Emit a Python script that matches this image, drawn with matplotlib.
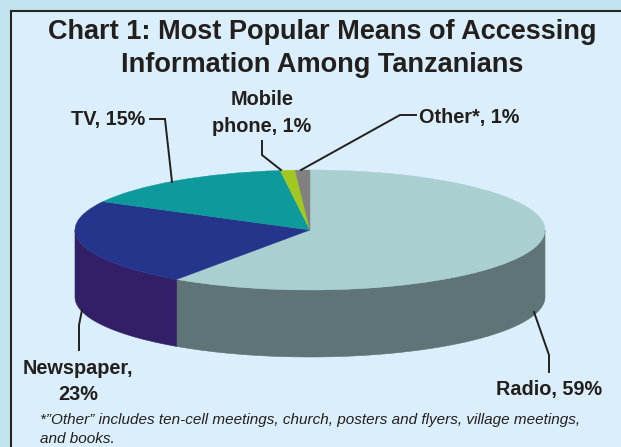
import numpy as np
import matplotlib
matplotlib.use("Agg")
import matplotlib.pyplot as plt
from matplotlib.patches import Wedge, Polygon, Rectangle
from matplotlib.transforms import Affine2D

plt.rcParams['font.family'] = ['Liberation Sans', 'DejaVu Sans']

categories = ["Radio", "Newspaper", "TV", "Mobile phone", "Other*"]
values = [59, 23, 15, 1, 1]
top_colors = ["#a9cfd0", "#25358c", "#0e9a9c", "#a2c81e", "#808080"]
side_colors = ["#5f7477", "#331f68", "#0b6f70", "#6f8a14", "#555555"]
title = "Chart 1: Most Popular Means of Accessing\nInformation Among Tanzanians"
footnote = ("*\u201dOther\u201d includes ten-cell meetings, church, posters and flyers, village meetings,\n"
            "and books.")

W, H = 621, 447
fig = plt.figure(figsize=(W / 100, H / 100), dpi=100, facecolor="#c2e4f0")
ax = fig.add_axes([0, 0, 1, 1])
ax.set_xlim(0, W)
ax.set_ylim(H, 0)
ax.axis("off")

# panel with its rule on the top and left
ax.add_patch(Rectangle((10.5, 11), W, H, fc="#daeefc", ec="none", zorder=0))
ax.plot([10.5, 10.5, W], [H, 11, 11], color="#2a2522", lw=1.5, zorder=1, solid_joinstyle="miter")

# pie geometry
cx, cy, rx, ry, depth = 310, 230, 235, 60, 67
ell = Affine2D().scale(rx, -ry).translate(cx, cy) + ax.transData

fractions = np.array(values) / sum(values)
ends = 90 - np.cumsum(fractions) * 360
starts = np.r_[90, ends[:-1]]

# extruded rim: only the part of each slice facing the viewer (180..360 deg)
for s, e, col in zip(starts, ends, side_colors):
    lo, hi = np.mod(e, 360), np.mod(s, 360)
    if hi <= lo:
        hi += 360
    segs = [(max(lo, a), min(hi, b)) for a, b in [(180, 360), (540, 720)] if min(hi, b) > max(lo, a)]
    if lo < 180 and hi > 360:
        segs = [(180, 360)]
    for a, b in segs:
        t = np.radians(np.linspace(a, b, 120))
        x = cx + rx * np.cos(t)
        y = cy - ry * np.sin(t)
        ax.add_patch(Polygon(np.r_[np.c_[x, y], np.c_[x, y + depth][::-1]],
                             fc=col, ec=col, lw=0.4, zorder=2))

# top face
for s, e, col in zip(starts, ends, top_colors):
    ax.add_patch(Wedge((0, 0), 1, e, s, fc=col, ec=col, lw=0.3, transform=ell, zorder=3))

# leader lines
line_kw = dict(color="#231f1c", lw=1.4, zorder=4, solid_joinstyle="miter")
ax.plot([150, 165, 172], [119, 119, 182], **line_kw)
ax.plot([262, 262, 281], [141, 155, 170], **line_kw)
ax.plot([416, 400, 301], [115, 115, 170], **line_kw)
ax.plot([82, 79, 79], [310, 325, 350], **line_kw)
ax.plot([534, 549, 549], [312, 355, 372], **line_kw)

txt = "#231f1c"
ax.text(322, 48.5, title, ha="center", va="center", fontsize=19.5, fontweight="bold",
        color=txt, linespacing=1.36)

lab = dict(fontsize=14.3, fontweight="bold", color=txt, va="center", ha="center",
           linespacing=1.5)
ax.text(108, 120, f"{categories[2]}, {values[2]}%", **lab)
ax.text(262, 113, f"Mobile\nphone, {values[3]}%", **lab)
ax.text(469, 117, f"{categories[4]}, {values[4]}%", **lab)
ax.text(78, 381.5, f"{categories[1]},\n{values[1]}%", **lab)
ax.text(549, 389.5, f"{categories[0]}, {values[0]}%", **lab)

ax.text(40, 429.5, footnote, ha="left", va="center", fontsize=11, style="italic",
        color=txt, linespacing=1.45)

fig.savefig("out.png", dpi=100, facecolor=fig.get_facecolor())
